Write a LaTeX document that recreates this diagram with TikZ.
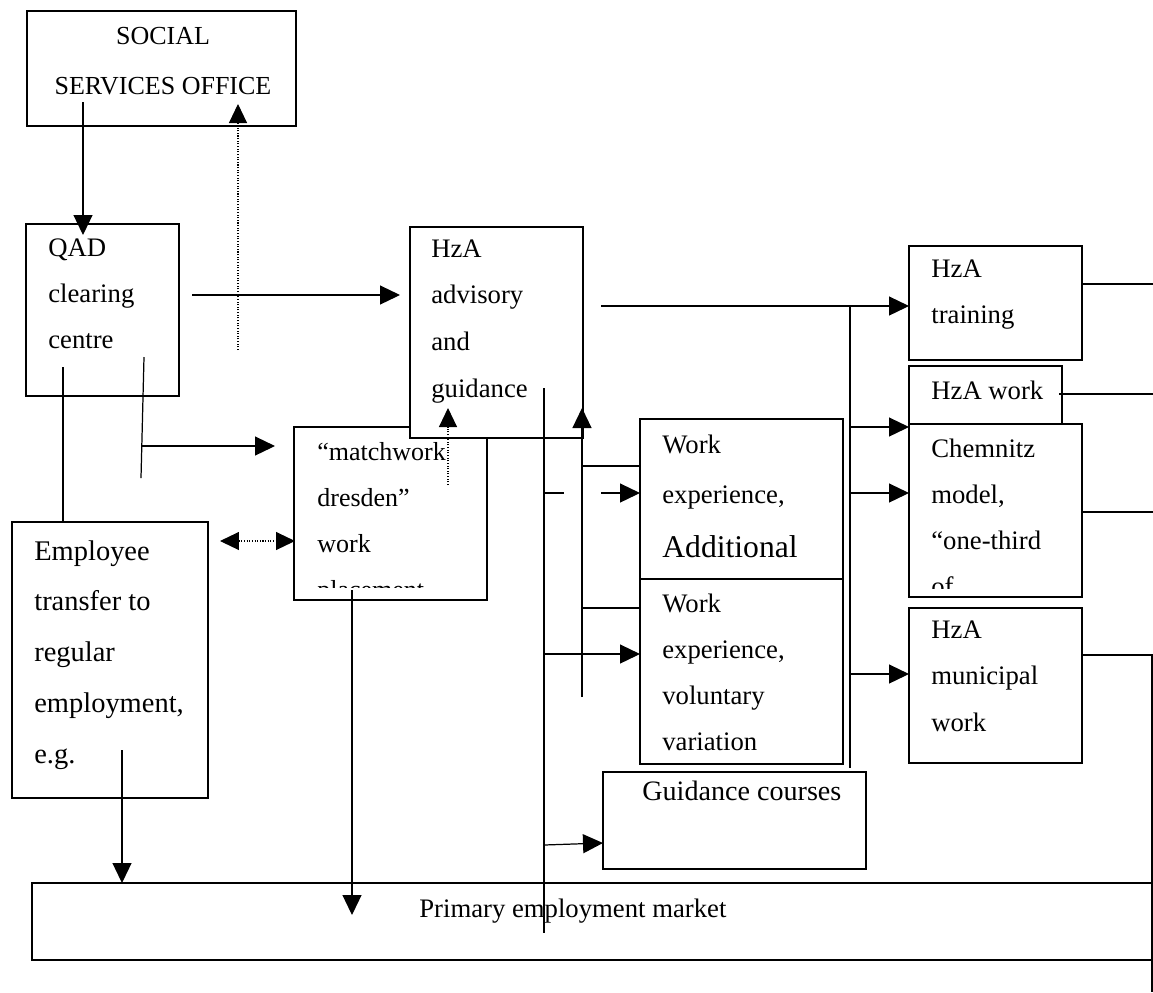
\documentclass[tikz,border=0pt]{standalone}
\usepackage{fontspec}
\setmainfont{Liberation Serif}
\usetikzlibrary{arrows.meta}
\newcommand{\stkL}[2]{\vtop{\baselineskip=#1\relax\lineskip=0pt\lineskiplimit=-100pt\halign{##\hfil\cr#2\crcr}}}
\newcommand{\stkC}[2]{\vtop{\baselineskip=#1\relax\lineskip=0pt\lineskiplimit=-100pt\halign{\hfil##\hfil\cr#2\crcr}}}
\begin{document}
\begin{tikzpicture}[x=0.02cm,y=-0.02cm,
 box/.style={draw, fill=white, line width=0.7pt, inner sep=0pt, outer sep=0pt, anchor=north west},
 txt/.style={inner sep=0pt, anchor=base west, font=\fontsize{15.2}{18}\selectfont},
 ln/.style={line width=0.7pt},
 arr/.style={ln, -{Triangle[length=0.4cm,width=0.38cm]}},
 dot/.style={line width=0.6pt, dash pattern=on 0.6pt off 0.9pt},
 dotarr/.style={dot, -{Triangle[length=0.38cm,width=0.36cm]}},
 dotdbl/.style={dot, {Triangle[length=0.38cm,width=0.36cm]}-{Triangle[length=0.38cm,width=0.36cm]}}]
\useasboundingbox (0,0) rectangle (1153,992);
\fill[white] (0,0) rectangle (1153,992);

% boxes
\node[box, minimum width=269*0.02cm, minimum height=115*0.02cm] (soc) at (27,11) {};
\node[box, minimum width=153*0.02cm, minimum height=172*0.02cm] (qad) at (26,224) {};
\node[box, minimum width=193*0.02cm, minimum height=173*0.02cm] (mw) at (294,427) {};
\node[box, minimum width=173*0.02cm, minimum height=211*0.02cm] (adv) at (410,227) {};
\node[box, minimum width=196*0.02cm, minimum height=276*0.02cm] (emp) at (12,522) {};
\node[box, minimum width=1120*0.02cm, minimum height=77*0.02cm] (prim) at (32,883) {};
\node[box, minimum width=203*0.02cm, minimum height=160*0.02cm] (wea) at (640,419) {};
\node[box, minimum width=203*0.02cm, minimum height=185*0.02cm] (wev) at (640,579) {};
\node[box, minimum width=263*0.02cm, minimum height=97*0.02cm] (guid) at (603,772) {};
\node[box, minimum width=173*0.02cm, minimum height=114*0.02cm] (trn) at (909,246) {};
\node[box, minimum width=153*0.02cm, minimum height=70*0.02cm] (hzw) at (909,366) {};
\node[box, minimum width=173*0.02cm, minimum height=173*0.02cm] (chem) at (909,424) {};
\node[box, minimum width=173*0.02cm, minimum height=155*0.02cm] (muni) at (909,608) {};

% texts
\node[txt, anchor=base, font=\fontsize{14.8}{18}\selectfont] (socT) at (163,44) {\stkC{28.5pt}{SOCIAL\cr SERVICES OFFICE}};
\node[txt] (qadT) at (48,256) {\stkL{26.2pt}{QAD\cr clearing\cr centre}};
\node[txt] (advT) at (431,257) {\stkL{26.7pt}{HzA\cr advisory\cr and\cr guidance}};
\begin{scope}
\clip (295,428) rectangle (486,587);
\node[txt, font=\fontsize{14.8}{18}\selectfont] (mwT) at (317,460) {\stkL{26.2pt}{“matchwork\cr dresden”\cr work\cr placement}};
\end{scope}
\node[txt, font=\fontsize{16.2}{18}\selectfont] (empT) at (34,560) {\stkL{28.9pt}{Employee\cr transfer to\cr regular\cr employment,\cr e.g.}};
\node[txt] (primT) at (419,917) {Primary employment market};
\node[txt] (weaT) at (662,453) {\stkL{28.5pt}{Work\cr experience,\cr\noalign{\vskip 2.6pt}{\fontsize{18}{20}\selectfont Additional}}};
\node[txt] (wevT) at (662,612) {\stkL{26.2pt}{Work\cr experience,\cr voluntary\cr variation}};
\node[txt, font=\fontsize{16}{18}\selectfont] (guidT) at (642,800) {Guidance courses};
\node[txt] (trnT) at (931,277) {\stkL{26.7pt}{HzA\cr training}};
\node[txt] (hzwT) at (931,399) {HzA work};
\begin{scope}
\clip (910,425) rectangle (1081,588);
\node[txt] (chemT) at (931,457) {\stkL{26.2pt}{Chemnitz\cr model,\cr “one-third\cr of}};
\end{scope}
\node[txt] (muniT) at (931,638) {\stkL{26.5pt}{HzA\cr municipal\cr work}};

% connector points
\coordinate (s1) at (83,102);   \coordinate (q1) at (83,235);
\coordinate (d1) at (238,350);  \coordinate (d2) at (238,104);
\coordinate (q2) at (192,295);  \coordinate (a1) at (400,295);
\coordinate (q3) at (63,367);   \coordinate (e1) at (63,522);
\coordinate (q4) at (144,357);  \coordinate (q5) at (141,478);
\coordinate (q6) at (141,446);  \coordinate (m1) at (275,446);
\coordinate (e2) at (220,541);  \coordinate (m2) at (295,541);
\coordinate (m3) at (352,590);  \coordinate (p1) at (352,915);
\coordinate (e3) at (122,750);  \coordinate (p2) at (122,883);
\coordinate (m4) at (448,485);  \coordinate (a2) at (448,408);
\coordinate (v1) at (544,388);  \coordinate (v2) at (544,933);
\coordinate (v3) at (582,697);  \coordinate (a3) at (582,408);
\coordinate (h1) at (582,466);  \coordinate (w1) at (640,466);
\coordinate (h2) at (544,493);  \coordinate (h3) at (564,493);
\coordinate (h4) at (601,493);  \coordinate (w2) at (640,493);
\coordinate (h5) at (582,608);  \coordinate (w3) at (640,608);
\coordinate (h6) at (544,654);  \coordinate (w4) at (640,654);
\coordinate (h7) at (544,845);  \coordinate (g1) at (603,843);
\coordinate (a4) at (601,306);  \coordinate (t1) at (909,306);
\coordinate (r1) at (850,306);  \coordinate (r2) at (850,768);
\coordinate (r3) at (850,427);  \coordinate (t2) at (909,427);
\coordinate (r4) at (850,493);  \coordinate (t3) at (909,493);
\coordinate (r5) at (850,674);  \coordinate (t4) at (909,674);
\coordinate (t5) at (1082,284); \coordinate (o1) at (1153,284);
\coordinate (t6) at (1059,394); \coordinate (o2) at (1153,394);
\coordinate (t7) at (1082,512); \coordinate (o3) at (1153,512);
\coordinate (t8) at (1082,655); \coordinate (o4) at (1152,655);
\coordinate (o5) at (1152,992);

% connectors
\draw[arr] (s1) -- (q1);
\draw[dotarr] (d1) -- (d2);
\draw[arr] (q2) -- (a1);
\draw[ln] (q3) -- (e1);
\draw[ln] (q4) -- (q5);
\draw[arr] (q6) -- (m1);
\draw[dotdbl] (e2) -- (m2);
\draw[arr] (m3) -- (p1);
\draw[arr] (e3) -- (p2);
\draw[dotarr] (m4) -- (a2);
\draw[ln] (v1) -- (v2);
\draw[arr] (v3) -- (a3);
\draw[ln] (h1) -- (w1);
\draw[ln] (h2) -- (h3);
\draw[arr] (h4) -- (w2);
\draw[ln] (h5) -- (w3);
\draw[arr] (h6) -- (w4);
\draw[arr] (h7) -- (g1);
\draw[arr] (a4) -- (t1);
\draw[ln] (r1) -- (r2);
\draw[arr] (r3) -- (t2);
\draw[arr] (r4) -- (t3);
\draw[arr] (r5) -- (t4);
\draw[ln] (t5) -- (o1);
\draw[ln] (t6) -- (o2);
\draw[ln] (t7) -- (o3);
\draw[ln] (t8) -- (o4) -- (o5);
\end{tikzpicture}
\end{document}
